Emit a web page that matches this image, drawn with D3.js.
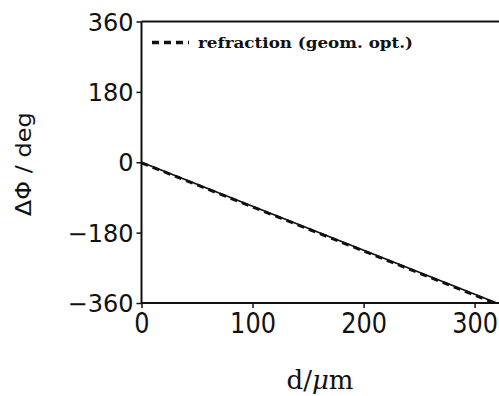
<!DOCTYPE html>
<html>
<head>
<meta charset="utf-8">
<script src="https://cdn.jsdelivr.net/npm/d3@7/dist/d3.min.js"></script>
<style>
  html, body { margin: 0; padding: 0; background: #fff; }
  svg { display: block; }
</style>
</head>
<body>
<div id="chart"></div>
<script>
// Phase shift versus thickness
const xTicks = [0, 100, 200, 300];
const yTicks = [-360, -180, 0, 180, 360];
const exactD = [0, 320];
const exactPhase = [0, -360];
const refractionD = [0, 318];
const refractionPhase = [-1.5, -360];
const legendLabel = "refraction (geom. opt.)";

const W = 499, H = 396;
const margin = { left: 141.5, right: 0, top: 21.5, bottom: 93 };

const svg = d3.select("#chart").append("svg")
  .attr("width", W).attr("height", H);

const x = d3.scaleLinear().domain([0, 322]).range([margin.left, W - margin.right]);
const y = d3.scaleLinear().domain([-360, 360]).range([H - margin.bottom, margin.top]);

const ink = "#111";

// frame: left, bottom, top
svg.append("line").attr("x1", x(0)).attr("x2", x(0)).attr("y1", y(360)).attr("y2", y(-360))
  .attr("stroke", ink).attr("stroke-width", 2);
svg.append("line").attr("x1", x(0)).attr("x2", W).attr("y1", y(-360)).attr("y2", y(-360))
  .attr("stroke", ink).attr("stroke-width", 2);
svg.append("line").attr("x1", x(0)).attr("x2", W).attr("y1", y(360)).attr("y2", y(360))
  .attr("stroke", ink).attr("stroke-width", 2);

// y axis
const yAxis = d3.axisLeft(y).tickValues(yTicks).tickSize(5).tickPadding(3)
  .tickFormat(d => d < 0 ? "\u2212" + Math.abs(d) : String(d));
const gy = svg.append("g").attr("transform", `translate(${x(0)},0)`).call(yAxis);
gy.select(".domain").remove();
gy.selectAll(".tick line").attr("stroke", ink).attr("stroke-width", 1.5);
gy.selectAll(".tick text")
  .attr("font-family", "DejaVu Sans, sans-serif").attr("font-size", 24)
  .attr("fill", ink).attr("dy", "0.36em");

// x axis
const xAxis = d3.axisBottom(x).tickValues(xTicks).tickSize(5).tickPadding(4);
const gx = svg.append("g").attr("transform", `translate(0,${y(-360)})`).call(xAxis);
gx.select(".domain").remove();
gx.selectAll(".tick line").attr("stroke", ink).attr("stroke-width", 1.5);
gx.selectAll(".tick text")
  .attr("font-family", "DejaVu Sans, sans-serif").attr("font-size", 24)
  .attr("fill", ink)
  .attr("transform", "scale(1,1.2)").attr("y", 8).attr("dy", "0.71em");

// axis titles
svg.append("text")
  .attr("transform", `translate(31,${(y(360) + y(-360)) / 2 + 2}) rotate(-90)`)
  .attr("text-anchor", "middle")
  .attr("font-family", "DejaVu Sans, sans-serif").attr("font-size", 22)
  .attr("textLength", 104).attr("lengthAdjust", "spacingAndGlyphs")
  .attr("fill", ink).text("\u0394\u03A6 / deg");

const xt = svg.append("text")
  .attr("x", 320).attr("y", 389)
  .attr("text-anchor", "middle")
  .attr("font-family", "DejaVu Serif, serif").attr("font-size", 26)
  .attr("fill", ink);
xt.append("tspan").text("d/");
xt.append("tspan").attr("font-style", "italic").text("\u03BC");
xt.append("tspan").text("m");

// curves
const line = d3.line().x(d => x(d[0])).y(d => y(d[1]));
svg.append("path")
  .datum(d3.zip(refractionD, refractionPhase))
  .attr("d", line).attr("fill", "none").attr("stroke", ink)
  .attr("stroke-width", 3).attr("stroke-dasharray", "7,5");
svg.append("path")
  .datum(d3.zip(exactD, exactPhase))
  .attr("d", line).attr("fill", "none").attr("stroke", ink)
  .attr("stroke-width", 1.8);

// legend
const lg = svg.append("g");
lg.append("line").attr("x1", 152).attr("x2", 189).attr("y1", 42.5).attr("y2", 42.5)
  .attr("stroke", ink).attr("stroke-width", 3.5).attr("stroke-dasharray", "7,5");
lg.append("text").attr("x", 198).attr("y", 48)
  .attr("font-family", "DejaVu Serif, serif").attr("font-weight", "bold").attr("font-size", 15)
  .attr("textLength", 215).attr("lengthAdjust", "spacingAndGlyphs")
  .attr("fill", ink).text(legendLabel);
</script>
</body>
</html>
